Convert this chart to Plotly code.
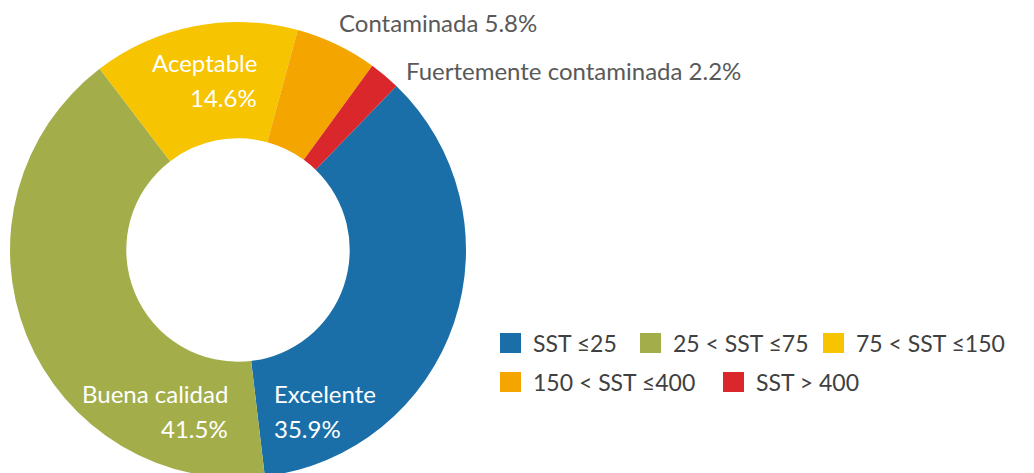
import plotly.graph_objects as go

# Data
categories = ["Excelente", "Buena calidad", "Aceptable", "Contaminada", "Fuertemente contaminada"]
values = [35.9, 41.5, 14.6, 5.8, 2.2]
legend_labels = ["SST ≤25", "25 < SST ≤75", "75 < SST ≤150", "150 < SST ≤400", "SST > 400"]
colors = ["#1b6fa9", "#a3ae4b", "#f6c400", "#f5a500", "#d9272c"]

W, H = 1034, 473
FONT = "Lato"
OFF = 8  # page body margin offset

def px(x):
    return (x - OFF) / W

def py(y):
    return 1 - (y - OFF) / H

CX, CY, R = 238, 250, 228

fig = go.Figure()
fig.add_trace(go.Pie(
    labels=legend_labels,
    values=values,
    sort=False,
    direction="clockwise",
    rotation=44,
    hole=0.49,
    marker=dict(colors=colors, line=dict(width=0)),
    textinfo="none",
    hoverinfo="label+percent",
    showlegend=False,
    domain=dict(x=[px(CX - R), px(CX + R)], y=[py(CY + R), py(CY - R)]),
))

annotations = []
# inside labels (white), one annotation per line
inside = {
    "Excelente": (272, "left", 393),
    "Buena calidad": (230, "right", 393),
    "Aceptable": (259, "right", 63),
}
for name, v in zip(categories, values):
    if name in inside:
        x, anchor, y = inside[name]
        for line, yy in ((name, y), (f"{v}%", y + 35)):
            annotations.append(dict(
                x=px(x), y=py(yy), xref="paper", yref="paper",
                text=line, showarrow=False, xanchor=anchor, yanchor="middle",
                font=dict(family=FONT, size=24, color="white"),
            ))
outside_pos = {"Contaminada": (337, 22), "Fuertemente contaminada": (404, 70)}
for name, v in zip(categories, values):
    if name in outside_pos:
        x, y = outside_pos[name]
        annotations.append(dict(
            x=px(x), y=py(y), xref="paper", yref="paper",
            text=f"{name} {v}%", showarrow=False, xanchor="left", yanchor="middle",
            font=dict(family=FONT, size=24, color="#595959"),
        ))

# manual legend
legend_pos = [(500, 343), (640, 343), (823, 343), (500, 382), (723, 382)]
shapes = []
for lab, col, (x, y) in zip(legend_labels, colors, legend_pos):
    shapes.append(dict(type="rect", xref="paper", yref="paper",
                       x0=px(x), x1=px(x + 21), y0=py(y + 10), y1=py(y - 10),
                       fillcolor=col, line=dict(width=0)))
    annotations.append(dict(
        x=px(x + 31), y=py(y), xref="paper", yref="paper", text=lab,
        showarrow=False, xanchor="left", yanchor="middle",
        font=dict(family=FONT, size=23, color="#404040"),
    ))

fig.update_layout(
    width=W, height=H,
    margin=dict(l=0, r=0, t=0, b=0),
    paper_bgcolor="white", plot_bgcolor="white",
    annotations=annotations, shapes=shapes,
)

fig.write_html("out.html")
